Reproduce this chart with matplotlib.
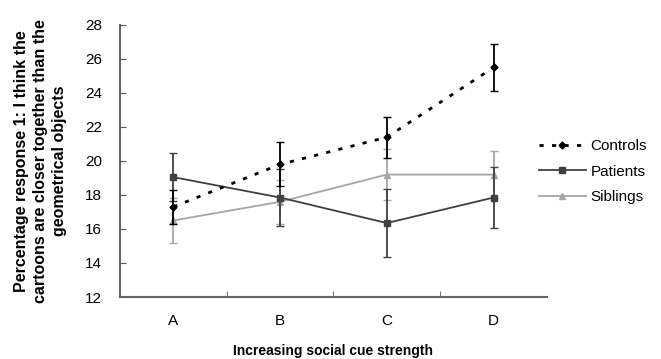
import numpy as np
import matplotlib.pyplot as plt
from matplotlib.lines import Line2D

plt.rcParams['font.family'] = ['Liberation Sans', 'DejaVu Sans']

categories = ["A", "B", "C", "D"]
controls = [17.3, 19.8, 21.4, 25.5]
controls_err = [1.0, 1.3, 1.2, 1.4]
patients = [19.05, 17.85, 16.35, 17.85]
patients_err = [1.4, 1.7, 2.0, 1.8]
siblings = [16.5, 17.6, 19.2, 19.2]
siblings_err = [1.3, 1.3, 1.5, 1.4]

ctrl_color = "black"
pat_color = "#404040"
sib_color = "#a6a6a6"
dotted = (0, (1.5, 3))

fig = plt.figure(figsize=(6.61, 3.59), dpi=100)
ax = fig.add_axes([0.1815, 0.1727, 0.646, 0.7577])

x = np.arange(len(categories))

ax.errorbar(x, siblings, yerr=siblings_err, color=sib_color, marker="^", markersize=5,
            linewidth=1.3, capsize=3, elinewidth=1.3, zorder=2)
ax.errorbar(x, patients, yerr=patients_err, color=pat_color, marker="s", markersize=5,
            linewidth=1.3, capsize=3, elinewidth=1.3, zorder=3)
ax.errorbar(x, controls, yerr=controls_err, color=ctrl_color, marker="D", markersize=3.5,
            linewidth=2, linestyle=dotted, capsize=3, elinewidth=1.3, zorder=4)

ax.set_xlim(-0.5, 3.5)
ax.set_ylim(12, 28)
ax.set_yticks(range(12, 29, 2))
ax.set_xticks(x)
ax.set_xticklabels(categories)
ax.set_xticks(np.arange(0.5, 3.0, 1), minor=True)
ax.tick_params(axis="x", which="major", length=0, labelsize=11, pad=12)
ax.tick_params(axis="x", which="minor", direction="in", length=4, color="#555555")
ax.tick_params(axis="y", direction="in", length=4, labelsize=11, pad=13, color="#555555")

for side in ["top", "right"]:
    ax.spines[side].set_visible(False)
for side in ["left", "bottom"]:
    ax.spines[side].set_color("#666666")
    ax.spines[side].set_linewidth(1.5)

ax.set_xlabel("Increasing social cue strength", fontsize=10, fontweight="bold", labelpad=12)
ax.set_ylabel("Percentage response 1: I think the\ncartoons are closer together than the\ngeometrical objects",
              fontsize=11.5, fontweight="bold", labelpad=13, linespacing=1.32)

# legend without error bars, like the reference
handles = [
    Line2D([], [], color=ctrl_color, marker="D", markersize=3.5, linewidth=2, linestyle=dotted),
    Line2D([], [], color=pat_color, marker="s", markersize=5, linewidth=1.3),
    Line2D([], [], color=sib_color, marker="^", markersize=5, linewidth=1.3),
]
fig.legend(handles, ["Controls", "Patients", "Siblings"],
           loc="center left", bbox_to_anchor=(0.815, 0.522), frameon=False, fontsize=11,
           handlelength=3.1, handletextpad=0.3, labelspacing=0.75, borderpad=0,
           borderaxespad=0)

plt.savefig("out.png", dpi=100)
